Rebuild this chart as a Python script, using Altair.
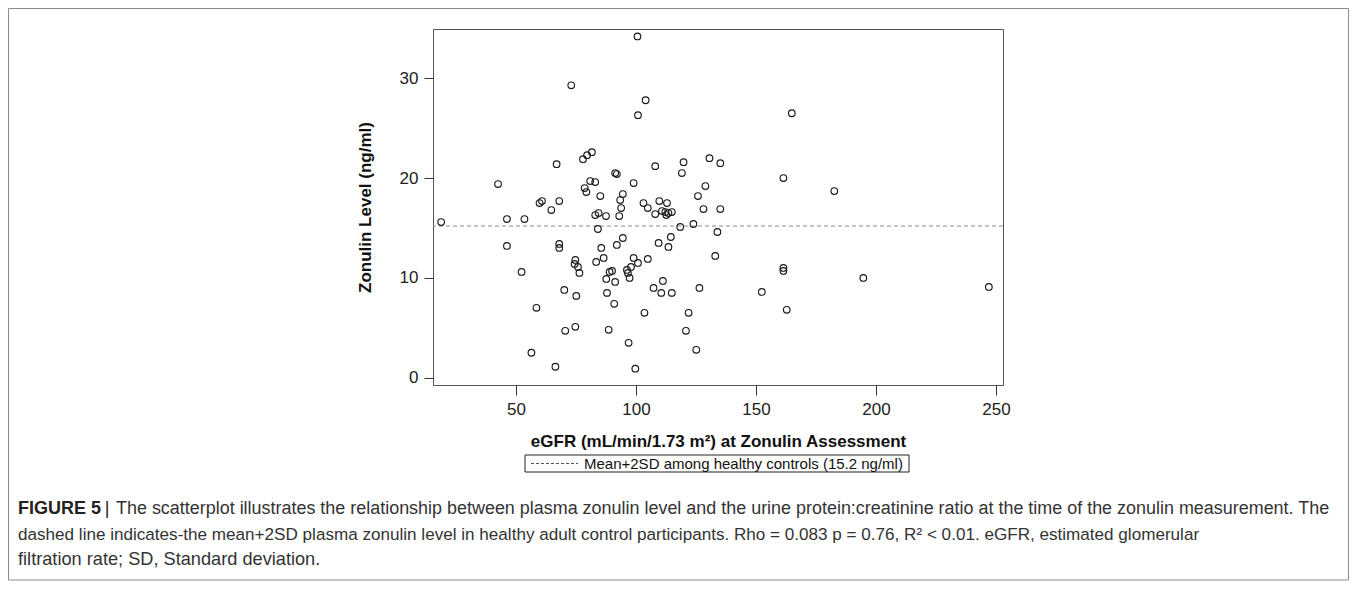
import altair as alt
import pandas as pd

# ---- data ----
egfr = [18.8, 42.5, 46.2, 53.5, 46.2, 52.3, 58.5, 56.4, 59.8, 60.8,
        64.7, 66.9, 68.0, 68.0, 68.0, 66.4, 70.1, 70.5, 73.0, 74.7,
        74.4, 75.8, 76.4, 75.1, 74.7, 77.9, 79.6, 81.6, 80.9, 83.0,
        78.6, 79.3, 85.1, 83.0, 84.4, 87.5, 84.1, 85.5, 83.4, 86.5,
        89.0, 90.0, 87.6, 91.3, 87.9, 90.9, 88.6, 91.3, 92.0, 93.8,
        93.4, 94.5, 93.0, 94.5, 92.0, 96.2, 96.6, 97.3, 97.9, 99.0,
        100.8, 99.0, 96.9, 99.7, 100.6, 100.8, 104.0, 103.1, 104.9, 104.9,
        103.5, 108.0, 109.7, 112.9, 108.0, 110.8, 112.2, 113.5, 114.9, 112.6,
        109.4, 113.5, 114.5, 111.2, 107.3, 110.5, 114.9, 118.4, 119.8, 119.1,
        121.9, 120.8, 123.9, 125.8, 128.9, 128.1, 126.4, 125.1, 130.6, 135.1,
        135.1, 133.9, 133.0, 152.4, 161.4, 164.9, 161.4, 161.4, 162.8, 182.6,
        194.7, 247.0]
zonulin = [15.6, 19.4, 15.9, 15.9, 13.2, 10.6, 7.0, 2.5, 17.5, 17.7,
           16.8, 21.4, 17.7, 13.4, 13.0, 1.1, 8.8, 4.7, 29.3, 11.8,
           11.4, 11.1, 10.5, 8.2, 5.1, 21.9, 22.3, 22.6, 19.7, 19.6,
           19.0, 18.6, 18.2, 16.3, 16.5, 16.2, 14.9, 13.0, 11.6, 12.0,
           10.6, 10.7, 9.9, 9.6, 8.5, 7.4, 4.8, 20.5, 20.4, 17.0,
           17.8, 18.4, 16.2, 14.0, 13.3, 10.8, 10.5, 10.0, 11.1, 12.0,
           11.5, 19.5, 3.5, 0.9, 34.2, 26.3, 27.8, 17.5, 17.0, 11.9,
           6.5, 21.2, 17.7, 17.5, 16.4, 16.7, 16.6, 16.5, 16.6, 16.3,
           13.5, 13.1, 14.1, 9.7, 9.0, 8.5, 8.5, 15.1, 21.6, 20.5,
           6.5, 4.7, 15.4, 18.2, 19.2, 16.9, 9.0, 2.8, 22.0, 21.5,
           16.9, 14.6, 12.2, 8.6, 20.0, 26.5, 11.0, 10.7, 6.8, 18.7,
           10.0, 9.1]

x_ticks = [50, 100, 150, 200, 250]
y_ticks = [0, 10, 20, 30]
x_domain = [15.4, 252.9]
y_domain = [-0.73, 34.94]
threshold = [15.2]

x_title = "eGFR (mL/min/1.73 m\u00b2) at Zonulin Assessment"
y_title = "Zonulin Level (ng/ml)"
legend_label = ["Mean+2SD among healthy controls (15.2 ng/ml)"]
caption_bold = ["FIGURE 5"]
caption_sep = ["|"]
caption_lines = [
    "The scatterplot illustrates the relationship between plasma zonulin level and the urine protein:creatinine ratio at the time of the zonulin measurement. The",
    "dashed line indicates-the mean+2SD plasma zonulin level in healthy adult control participants. Rho = 0.083 p = 0.76, R\u00b2 < 0.01. eGFR, estimated glomerular",
    "filtration rate; SD, Standard deviation.",
]
caption_sizes = [17.95, 17.1, 18.2]
caption_x = [-317, -415, -415]

# ---- layout (plot area and padding) ----
W, H = 570, 356
PAD = {"left": 425, "top": 21, "right": 346, "bottom": 215}
FONT = "Liberation Sans"

df = pd.DataFrame({"egfr": egfr, "zonulin": zonulin})

xs = alt.Scale(domain=x_domain, nice=False, zero=False)
ys = alt.Scale(domain=y_domain, nice=False, zero=False)

points = alt.Chart(df).mark_point(
    shape="circle", filled=False, color="#1a1a1a", size=44, strokeWidth=1.15, opacity=1
).encode(
    x=alt.X("egfr:Q", scale=xs, axis=alt.Axis(
        values=x_ticks, title=x_title, tickSize=10, labelPadding=6,
        titleX=W / 2, titleY=56, titleBaseline="middle", titleAlign="center")),
    y=alt.Y("zonulin:Q", scale=ys, axis=alt.Axis(
        values=y_ticks, title=y_title, tickSize=9, labelPadding=6,
        titleX=-68, titleY=H / 2, titleAngle=-90, titleBaseline="middle", titleAlign="center")),
)

rule = alt.Chart(pd.DataFrame({"t": threshold})).mark_rule(
    color="#8a8a8a", strokeDash=[4, 3], strokeWidth=1
).encode(y=alt.Y("t:Q", scale=ys))

one = pd.DataFrame({"a": [0]})

frame = alt.Chart(one).mark_rect(fillOpacity=0, stroke="#8c8c8c", strokeWidth=1).encode(
    x=alt.value(-424.5), x2=alt.value(915.5), y=alt.value(-20.5), y2=alt.value(551)
)

legend_box = alt.Chart(one).mark_rect(fillOpacity=0, stroke="#222", strokeWidth=1).encode(
    x=alt.value(92), x2=alt.value(476), y=alt.value(426), y2=alt.value(443)
)
legend_line = alt.Chart(one).mark_rule(color="#555", strokeDash=[3, 2], strokeWidth=1).encode(
    x=alt.value(98), x2=alt.value(145), y=alt.value(434.5)
)
legend_text = alt.Chart(pd.DataFrame({"t": legend_label})).mark_text(
    font=FONT, fontSize=15, align="left", baseline="middle", color="#111"
).encode(x=alt.value(151), y=alt.value(434.5), text="t:N")

cap_bold = alt.Chart(pd.DataFrame({"t": caption_bold})).mark_text(
    font=FONT, fontSize=18, fontWeight="bold", align="left", baseline="middle", color="#222"
).encode(x=alt.value(-415), y=alt.value(480), text="t:N")

cap_sep = alt.Chart(pd.DataFrame({"t": caption_sep})).mark_text(
    font=FONT, fontSize=18, align="center", baseline="middle", color="#222"
).encode(x=alt.value(-326), y=alt.value(480), text="t:N")

cap_layers = []
for i, line in enumerate(caption_lines):
    cap_layers.append(
        alt.Chart(pd.DataFrame({"t": [line]})).mark_text(
            font=FONT, fontSize=caption_sizes[i], align="left", baseline="middle", color="#333"
        ).encode(x=alt.value(caption_x[i]), y=alt.value(480 + 25.5 * i), text="t:N")
    )

chart = alt.layer(
    frame, rule, points, legend_box, legend_line, legend_text, cap_bold, cap_sep, *cap_layers
).properties(
    width=W, height=H, padding=PAD, autosize=alt.AutoSizeParams(type="none"),
    background="white"
).configure_view(
    stroke="#555", strokeWidth=1
).configure_axis(
    domain=False, grid=False, tickColor="#333", tickWidth=1,
    labelFont=FONT, labelFontSize=17, labelColor="#222",
    titleFont=FONT, titleFontSize=17, titleFontWeight="bold", titleColor="#111"
)

chart.save("out.html", embed_options={"renderer": "svg", "actions": False})
